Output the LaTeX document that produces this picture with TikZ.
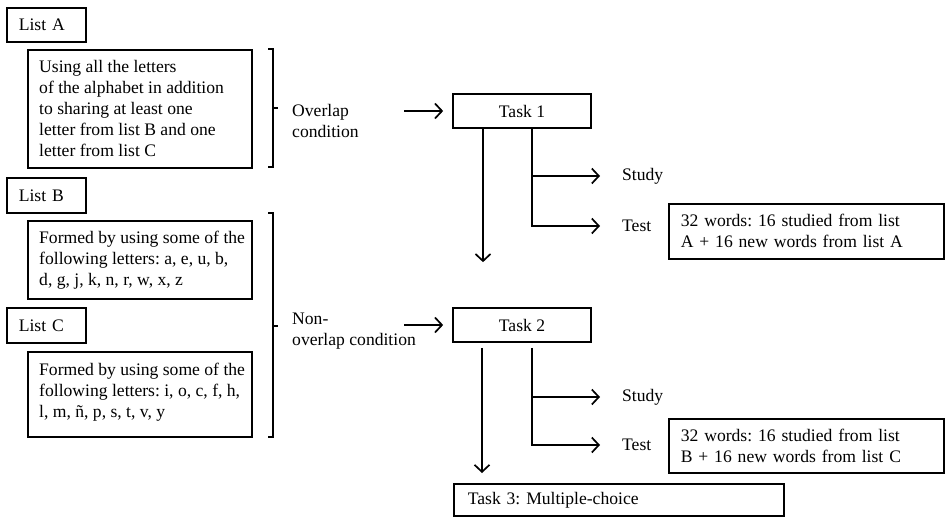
\documentclass[tikz,border=0pt]{standalone}
\usepackage{fontspec}
\setmainfont{Liberation Serif}
\usetikzlibrary{arrows.meta,calc}
\begin{document}
\frenchspacing
\begin{tikzpicture}[x=1pt,y=-1pt,
  every node/.style={font=\fontsize{17.6}{21}\selectfont, inner ysep=0pt},
  box/.style={draw, line width=1.7pt, anchor=north west, align=left, inner xsep=12pt},
  frame/.style={draw, line width=1.7pt, anchor=north west, minimum width=224pt},
  taskbox/.style={draw, line width=1.7pt, minimum width=138pt, minimum height=34pt},
  lbl/.style={anchor=west, align=left, inner sep=0pt},
  conn/.style={line width=1.6pt},
  arr/.style={conn, -{Straight Barb[length=7pt,width=15pt,line width=1.7pt]}},
]
\useasboundingbox (0,0) rectangle (945,517);
% left column
\node[box, text width=55pt, minimum height=34pt] (listA) at (6,7) {List A};
\node[frame, minimum height=118pt] (boxA) at (27,49) {};
\node[lbl] (txtA) at ($(boxA.west)+(12,0)$) {Using all the letters\\of the alphabet in addition\\to sharing at least one\\letter from list B and one\\letter from list C};
\node[box, text width=55pt, minimum height=35pt] (listB) at (6,177) {List B};
\node[frame, minimum height=78pt] (boxB) at (27,220) {};
\node[lbl] (txtB) at ($(boxB.west)+(12,0)$) {Formed by using some of the\\following letters: a, e, u, b,\\d, g, j, k, n, r, w, x, z};
\node[box, text width=55pt, minimum height=35pt] (listC) at (6,307) {List C};
\node[frame, minimum height=85pt] (boxC) at (27,351) {};
\node[lbl] (txtC) at ($(boxC.west)+(12,-2)$) {Formed by using some of the\\following letters: i, o, c, f, h,\\l, m, ñ, p, s, t, v, y};
% brackets
\draw[conn] (268,49) -- (273,49) -- (273,167) -- (268,167);
\draw[conn] (273,108) -- (278,108);
\draw[conn] (268,213) -- (273,213) -- (273,437) -- (268,437);
\draw[conn] (273,326) -- (278,326);
% condition labels
\node[lbl] (ovl) at (292,121) {Overlap\\condition};
\node[lbl] (novl) at (292,331) {Non-\\overlap condition};
% tasks
\node[taskbox] (t1) at (522,111) {Task 1};
\node[taskbox] (t2) at (522,325) {Task 2};
\node[box, text width=302pt, minimum height=32pt, inner xsep=14pt] (t3) at (453,483) {Task 3: Multiple-choice};
\coordinate (a1) at (404,111);
\coordinate (a2) at (404,325);
\draw[arr, shorten >=9pt] (a1) -- (t1.west);
\draw[arr, shorten >=9pt] (a2) -- (t2.west);
% study / test labels
\node[lbl] (study1) at (622,176) {Study};
\node[lbl] (test1) at (622,226) {Test};
\node[lbl] (study2) at (622,397) {Study};
\node[lbl] (test2) at (622,445) {Test};
\node[box, text width=251pt, minimum height=55pt] (tb1) at (668,203) {32 words: 16 studied from list\\A + 16 new words from list A};
\node[box, text width=251pt, minimum height=54pt] (tb2) at (668,418) {32 words: 16 studied from list\\B + 16 new words from list C};
% vertical connectors
\coordinate (d1) at (483,0);
\coordinate (d2) at (482,0);
\coordinate (k1) at (532,0);
\draw[arr, shorten >=45pt] (t1.south -| d1) -- (t2.north -| d1);
\draw[arr, shorten <=5pt, shorten >=10pt] (t2.south -| d2) -- (t3.north -| d2);
\draw[arr, shorten >=22pt] (t1.south -| k1) |- (test1.west);
\draw[arr, shorten >=22pt] (k1 |- study1.west) -- (study1.west);
\draw[arr, shorten <=5pt, shorten >=22pt] (t2.south -| k1) |- (test2.west);
\draw[arr, shorten >=22pt] (k1 |- study2.west) -- (study2.west);
\end{tikzpicture}
\end{document}
